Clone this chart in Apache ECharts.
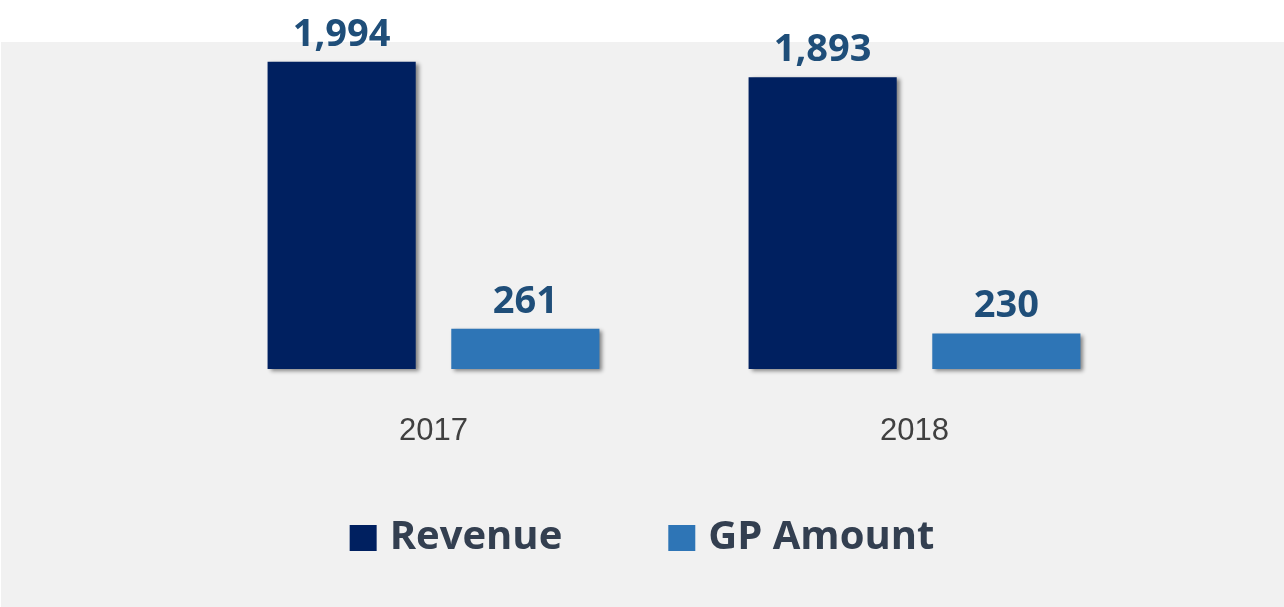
<!DOCTYPE html>
<html>
<head>
<meta charset="utf-8">
<script src="https://cdn.jsdelivr.net/npm/echarts@6/dist/echarts.min.js"></script>
<style>
  html, body { margin: 0; padding: 0; background: #ffffff; }
  #chart { width: 1284px; height: 607px; }
</style>
</head>
<body>
<div id="chart"></div>
<script>
const years = ['2017', '2018'];
const revenue = [1994, 1893];
const gpAmount = [261, 230];

const chart = echarts.init(document.getElementById('chart'));

const barShadow = {
    shadowBlur: 4,
    shadowOffsetX: 3,
    shadowOffsetY: 2,
    shadowColor: 'rgba(0,0,0,0.45)'
};

const labelStyle = {
    show: true,
    position: 'top',
    distance: 8,
    color: '#1f4e79',
    fontFamily: 'Open Sans',
    fontWeight: 'bold',
    fontSize: 38,
    formatter: (p) => p.value.toLocaleString('en-US')
};

const option = {
    animation: false,
    backgroundColor: '#ffffff',
    graphic: [{
        type: 'rect',
        z: -10,
        silent: true,
        shape: { x: 1, y: 42, width: 1283, height: 565 },
        style: { fill: '#f1f1f1' }
    }],
    grid: { left: 193, width: 962, top: 30, bottom: 238 },
    legend: {
        left: 'center',
        top: 513,
        icon: 'rect',
        itemWidth: 27,
        itemHeight: 26,
        itemGap: 106,
        textStyle: {
            color: '#333f50',
            fontFamily: 'Open Sans',
            fontWeight: 'bold',
            fontSize: 40,
            padding: [0, 0, 0, 8]
        },
        data: ['Revenue', 'GP Amount']
    },
    xAxis: {
        type: 'category',
        data: years,
        axisLine: { show: false },
        axisTick: { show: false },
        axisLabel: {
            color: '#404040',
            fontFamily: 'Liberation Sans',
            fontSize: 31,
            margin: 47
        }
    },
    yAxis: {
        type: 'value',
        min: 0,
        max: 2200,
        show: false,
        splitLine: { show: false }
    },
    series: [
        {
            name: 'Revenue',
            type: 'bar',
            data: revenue,
            barWidth: '30.8%',
            barGap: '24%',
            itemStyle: Object.assign({ color: '#002060' }, barShadow),
            label: labelStyle
        },
        {
            name: 'GP Amount',
            type: 'bar',
            data: gpAmount,
            barWidth: '30.8%',
            itemStyle: Object.assign({ color: '#2e75b6' }, barShadow),
            label: labelStyle
        }
    ]
};

chart.setOption(option);
</script>
</body>
</html>
